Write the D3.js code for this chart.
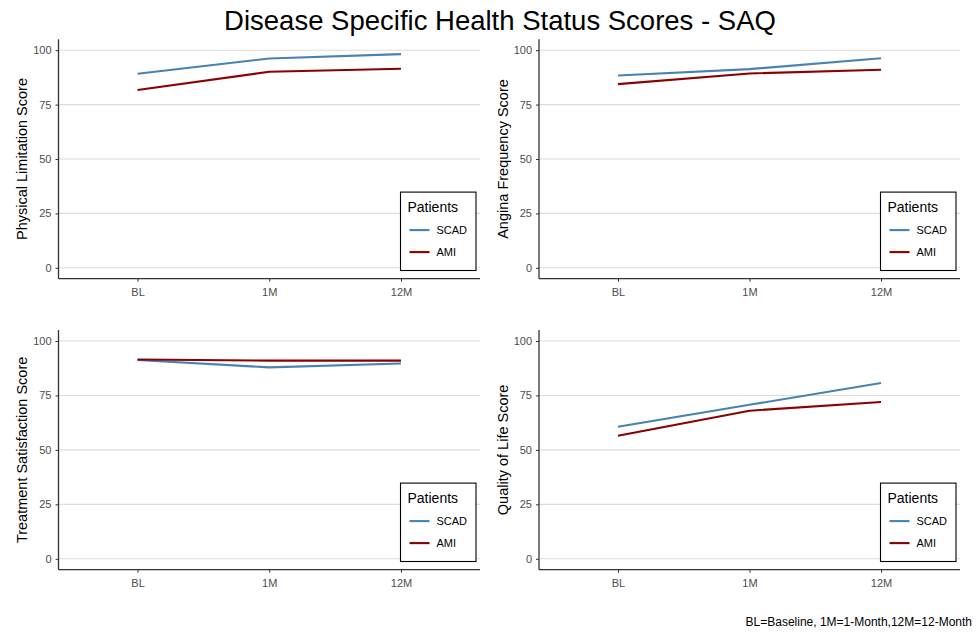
<!DOCTYPE html>
<html><head><meta charset="utf-8">
<script src="https://cdn.jsdelivr.net/npm/d3@7"></script>
<style>body{margin:0;background:#fff;} svg{display:block;font-family:"Liberation Sans",Arial,sans-serif;}</style>
</head><body>
<svg id="chart" width="979" height="632"></svg>
<script>
const timepoints = ["BL", "1M", "12M"];
const seriesNames = ["SCAD", "AMI"];
const seriesColors = ["#4682B4", "#8B0000"];
const yTicks = [0, 25, 50, 75, 100];

const physicalSCAD = [89.2, 96.2, 98.2];
const physicalAMI = [81.7, 90.1, 91.5];
const anginaSCAD = [88.4, 91.3, 96.3];
const anginaAMI = [84.4, 89.3, 91.0];
const treatmentSCAD = [91.3, 87.9, 89.7];
const treatmentAMI = [91.5, 91.0, 91.0];
const qolSCAD = [60.6, 70.7, 80.7];
const qolAMI = [56.5, 68.0, 72.0];

const panelTitles = ["Physical Limitation Score", "Angina Frequency Score", "Treatment Satisfaction Score", "Quality of Life Score"];
const chartTitle = "Disease Specific Health Status Scores - SAQ";
const caption = "BL=Baseline, 1M=1-Month,12M=12-Month";
const legendTitle = "Patients";

const panels = [
  {title: panelTitles[0], data: [physicalSCAD, physicalAMI], x0: 58.5, x1: 480, y0: 39.3, y1: 278.7},
  {title: panelTitles[1], data: [anginaSCAD, anginaAMI], x0: 539, x1: 960, y0: 39.3, y1: 278.7},
  {title: panelTitles[2], data: [treatmentSCAD, treatmentAMI], x0: 58.5, x1: 480, y0: 330.1, y1: 569.7},
  {title: panelTitles[3], data: [qolSCAD, qolAMI], x0: 539, x1: 960, y0: 330.1, y1: 569.7}
];

const svg = d3.select("#chart");

svg.append("text").attr("x", 500).attr("y", 30).attr("text-anchor", "middle")
  .attr("font-size", 27.5).attr("fill", "#000").text(chartTitle);

svg.append("text").attr("x", 972).attr("y", 626).attr("text-anchor", "end")
  .attr("font-size", 12).attr("fill", "#000").text(caption);

panels.forEach(p => {
  const g = svg.append("g");
  const x = d3.scalePoint().domain(timepoints).range([p.x0, p.x1]).padding(0.6);
  const y = d3.scaleLinear().domain([-5, 105]).range([p.y1, p.y0]);

  // grid
  g.selectAll(".grid").data(yTicks).join("line")
    .attr("x1", p.x0).attr("x2", p.x1)
    .attr("y1", d => y(d)).attr("y2", d => y(d))
    .attr("stroke", "#DCDCDC").attr("stroke-width", 1.1);

  // axes
  const xAxis = g.append("g").attr("transform", `translate(0,${p.y1})`)
    .call(d3.axisBottom(x).tickSize(3).tickPadding(7));
  const yAxis = g.append("g").attr("transform", `translate(${p.x0},0)`)
    .call(d3.axisLeft(y).tickValues(yTicks).tickSize(3).tickPadding(4));
  [xAxis, yAxis].forEach(a => {
    a.select(".domain").remove();
    a.selectAll(".tick line").attr("stroke", "#333");
    a.selectAll(".tick text").attr("fill", "#4D4D4D").attr("font-size", 11)
      .attr("font-family", "Liberation Sans, Arial, sans-serif");
  });
  g.append("line").attr("x1", p.x0).attr("x2", p.x1).attr("y1", p.y1).attr("y2", p.y1)
    .attr("stroke", "#333").attr("stroke-width", 1.3);
  g.append("line").attr("x1", p.x0).attr("x2", p.x0).attr("y1", p.y0).attr("y2", p.y1)
    .attr("stroke", "#333").attr("stroke-width", 1.3);

  // y title
  const cy = (y(0) + y(100)) / 2;
  g.append("text").attr("transform", `translate(${p.x0 - 31.5},${cy}) rotate(-90)`)
    .attr("text-anchor", "middle").attr("font-size", 14.5).attr("fill", "#000").text(p.title);

  // lines
  const line = d3.line().x((d, i) => x(timepoints[i])).y(d => y(d));
  p.data.forEach((vals, si) => {
    g.append("path").datum(vals).attr("d", line).attr("fill", "none")
      .attr("stroke", seriesColors[si]).attr("stroke-width", 2.1);
  });

  // legend
  const lx = p.x1 - 79.5, ly = p.y1 - 86.6;
  const lg = g.append("g").attr("transform", `translate(${lx},${ly})`);
  lg.append("rect").attr("x", 0).attr("y", 0).attr("width", 75.5).attr("height", 78.4)
    .attr("fill", "#fff").attr("stroke", "#000").attr("stroke-width", 1.1);
  lg.append("text").attr("x", 7).attr("y", 20).attr("font-size", 14).attr("fill", "#000").text(legendTitle);
  seriesNames.forEach((s, i) => {
    const yy = 38 + i * 22;
    lg.append("line").attr("x1", 9).attr("x2", 29).attr("y1", yy).attr("y2", yy)
      .attr("stroke", seriesColors[i]).attr("stroke-width", 2.1);
    lg.append("text").attr("x", 36).attr("y", yy + 4).attr("font-size", 11).attr("fill", "#000").text(s);
  });
});
</script>
</body></html>
